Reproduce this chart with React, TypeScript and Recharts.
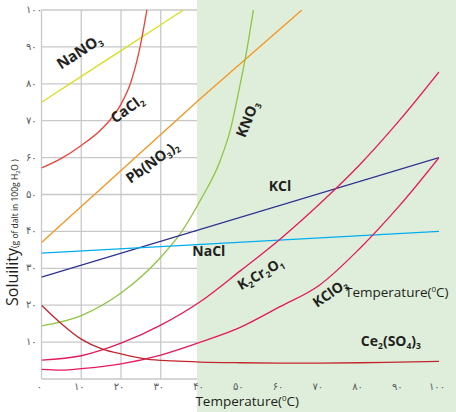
import React from 'react';
import { LineChart, Line, XAxis, YAxis, CartesianGrid, ReferenceArea, ReferenceDot } from 'recharts';

const ticks = [0, 10, 20, 30, 40, 50, 60, 70, 80, 90, 100];
const xTickLabels = ['۰', '۱۰', '۲۰', '۳۰', '۴۰', '۵۰', '۶۰', '۷۰', '۸۰', '۹۰', '۱۰۰'];
const yTickLabels = ['', '۱۰', '۲۰', '۳۰', '۴۰', '۵۰', '۶۰', '۷۰', '۸۰', '۹۰', '۱۰۰'];

const nano3T = [0, 10, 20, 30, 35.7];
const nano3S = [75, 82, 89, 96, 100];
const cacl2T = [0, 5, 10, 15, 20, 22.5, 24.8, 26.5];
const cacl2S = [57.2, 59.8, 63.3, 67.6, 74.5, 80.5, 90, 100];
const pbno3T = [0, 20, 40, 65.5];
const pbno3S = [37, 56.5, 76, 100];
const kno3T = [0, 10, 20, 30, 35, 40, 45, 47.5, 50, 51.3, 53.3];
const kno3S = [14.4, 17.2, 23.3, 33, 39.5, 48.5, 59.3, 67.5, 80, 87, 100];
const kclT = [0, 100];
const kclS = [27.6, 60];
const naclT = [0, 100];
const naclS = [34.1, 40];
const k2cr2o7T = [0, 10, 20, 30, 40, 50, 60, 70, 80, 90, 100];
const k2cr2o7S = [5.1, 6.3, 9.7, 14.6, 21, 29.3, 37.9, 47.5, 58, 70, 83.2];
const kclo3T = [0, 5, 10, 20, 30, 40, 50, 60, 70, 80, 90, 100];
const kclo3S = [2.6, 2.4, 2.8, 4.1, 6.5, 10, 14, 19.6, 25.5, 35.3, 46.9, 60];
const ce2so43T = [0, 5, 10, 15.5, 20, 26.5, 33, 40, 50, 60, 70, 80, 90, 100];
const ce2so43S = [20, 15, 10.8, 8, 6.8, 5.4, 4.9, 4.6, 4.4, 4.3, 4.3, 4.4, 4.6, 4.8];

const toPoints = (t: number[], s: number[]) => t.map((x, i) => ({ x, y: s[i] }));

const series = [
  { key: 'NaNO3', t: nano3T, s: nano3S, color: '#d7df23', type: 'linear' },
  { key: 'CaCl2', t: cacl2T, s: cacl2S, color: '#ef4136', type: 'monotone' },
  { key: 'PbNO32', t: pbno3T, s: pbno3S, color: '#f7941d', type: 'linear' },
  { key: 'KNO3', t: kno3T, s: kno3S, color: '#8dc63f', type: 'monotone' },
  { key: 'KCl', t: kclT, s: kclS, color: '#2e3192', type: 'linear' },
  { key: 'NaCl', t: naclT, s: naclS, color: '#00aeef', type: 'linear' },
  { key: 'K2Cr2O7', t: k2cr2o7T, s: k2cr2o7S, color: '#e6195c', type: 'monotone' },
  { key: 'KClO3', t: kclo3T, s: kclo3S, color: '#e6195c', type: 'monotone' },
  { key: 'Ce2SO43', t: ce2so43T, s: ce2so43S, color: '#c1272d', type: 'monotone' },
];

type Part = [string, boolean];
const labels: { x: number; y: number; angle: number; size: number; parts: Part[] }[] = [
  { x: 10.2, y: 87.5, angle: -33, size: 15, parts: [['NaNO', false], ['3', true]] },
  { x: 22.3, y: 72.1, angle: -36, size: 14.5, parts: [['CaCl', false], ['2', true]] },
  { x: 28.6, y: 57.7, angle: -36, size: 14.5, parts: [['Pb(NO', false], ['3', true], [')', false], ['2', true]] },
  { x: 53, y: 69.9, angle: -68, size: 14.5, parts: [['KNO', false], ['3', true]] },
  { x: 60, y: 51, angle: 0, size: 14, parts: [['KCl', false]] },
  { x: 42.1, y: 33.3, angle: 0, size: 14, parts: [['NaCl', false]] },
  { x: 55.7, y: 27.4, angle: -30, size: 14, parts: [['K', false], ['2', true], ['Cr', false], ['2', true], ['O', false], ['1', true]] },
  { x: 73.3, y: 22.2, angle: -35, size: 14, parts: [['KClO', false], ['3', true]] },
  { x: 87.9, y: 8.9, angle: 0, size: 14, parts: [['Ce', false], ['2', true], ['(SO', false], ['4', true], [')', false], ['3', true]] },
];

const FONT = '"Open Sans", "DejaVu Sans", sans-serif';
const DIGITS = '"DejaVu Sans", sans-serif';

const renderParts = (parts: Part[], size: number) => {
  const out: React.ReactNode[] = [];
  let shifted = false;
  parts.forEach(([txt, sub], i) => {
    let dy = 0;
    if (sub && !shifted) { dy = 3; shifted = true; }
    else if (!sub && shifted) { dy = -3; shifted = false; }
    out.push(
      <tspan key={i} dy={dy} fontSize={sub ? 8.5 : size}>{txt}</tspan>
    );
  });
  return out;
};

const XTick = (props: any) => {
  const { x, y, payload } = props;
  const idx = ticks.indexOf(payload.value);
  return (
    <text x={x - 2} y={y + 11} textAnchor="middle" fontFamily={DIGITS} fontSize={10} fill="#58595b">
      {xTickLabels[idx]}
    </text>
  );
};

const YTick = (props: any) => {
  const { y, payload } = props;
  const idx = ticks.indexOf(payload.value);
  return (
    <text x={26} y={y} dy={3} textAnchor="start" fontFamily={DIGITS} fontSize={10} fill="#58595b">
      {yTickLabels[idx]}
    </text>
  );
};

const TempTitle = ({ x, y, anchor }: { x: number; y: number; anchor: string }) => (
  <text x={x} y={y} textAnchor={anchor as any} fontFamily={FONT} fontSize={13.5} fill="#231f20">
    <tspan>Temperature(</tspan>
    <tspan fontSize={8} dy={-5}>0</tspan>
    <tspan dy={5}>C)</tspan>
  </text>
);

const XTitle = (props: any) => {
  const vb = props.viewBox;
  return <TempTitle x={vb.x + vb.width / 2 + 7} y={vb.y + 27} anchor="middle" />;
};

const YTitle = (props: any) => {
  const vb = props.viewBox;
  const bx = vb.x + 17.5 - vb.x;
  const by = 306;
  return (
    <text transform={`translate(${bx},${by}) rotate(-90)`} x={0} y={0} textAnchor="start" fontFamily={FONT} fill="#231f20">
      <tspan fontSize={16}>Soluility</tspan>
      <tspan fontSize={8.5}>(g of dalt in 100g H</tspan>
      <tspan fontSize={5.5} dy={2}>2</tspan>
      <tspan fontSize={8.5} dy={-2}>O )</tspan>
    </text>
  );
};

export default function App() {
  return (
    <div style={{ position: 'absolute', left: 0, top: 0, width: 456, height: 412 }}>
      <LineChart width={456} height={412} margin={{ top: 10, right: 17, left: 0, bottom: 0 }}>
        <ReferenceArea
          x1={39.1}
          x2={104.5}
          y1={-9.2}
          y2={102.8}
          ifOverflow="visible"
          fill="#deeedb"
          fillOpacity={1}
          stroke="none"
        />
        <CartesianGrid stroke="#c8c8c8" strokeWidth={1.3} fill="none" />
        <XAxis
          type="number"
          dataKey="x"
          domain={[0, 100]}
          ticks={ticks}
          allowDataOverflow
          height={33}
          axisLine={false}
          tickLine={false}
          tickSize={0}
          tickMargin={0}
          tick={<XTick />}
          label={{ content: (p: any) => <XTitle {...p} /> }}
        />
        <YAxis
          type="number"
          dataKey="y"
          domain={[0, 100]}
          ticks={ticks}
          allowDataOverflow
          width={41.5}
          axisLine={false}
          tickLine={false}
          tickSize={0}
          tickMargin={0}
          tick={<YTick />}
          label={{ content: (p: any) => <YTitle {...p} /> }}
        />
        {series.map((sr) => (
          <Line
            key={sr.key}
            data={toPoints(sr.t, sr.s)}
            dataKey="y"
            type={sr.type as any}
            stroke={sr.color}
            strokeWidth={1.3}
            dot={false}
            activeDot={false}
            isAnimationActive={false}
          />
        ))}
        {labels.map((lb, i) => (
          <ReferenceDot
            key={i}
            x={lb.x}
            y={lb.y}
            r={0}
            ifOverflow="visible"
            shape={(p: any) => (
              <g transform={`translate(${p.cx},${p.cy}) rotate(${lb.angle})`}>
                <text x={0} y={0} dy={5} textAnchor="middle" fontFamily={FONT} fontWeight={700} fill="#231f20">
                  {renderParts(lb.parts, lb.size)}
                </text>
              </g>
            )}
          />
        ))}
        <ReferenceDot
          x={76.35}
          y={22.2}
          r={0}
          ifOverflow="visible"
          shape={(p: any) => <TempTitle x={p.cx} y={p.cy} anchor="start" />}
        />
      </LineChart>
    </div>
  );
}
